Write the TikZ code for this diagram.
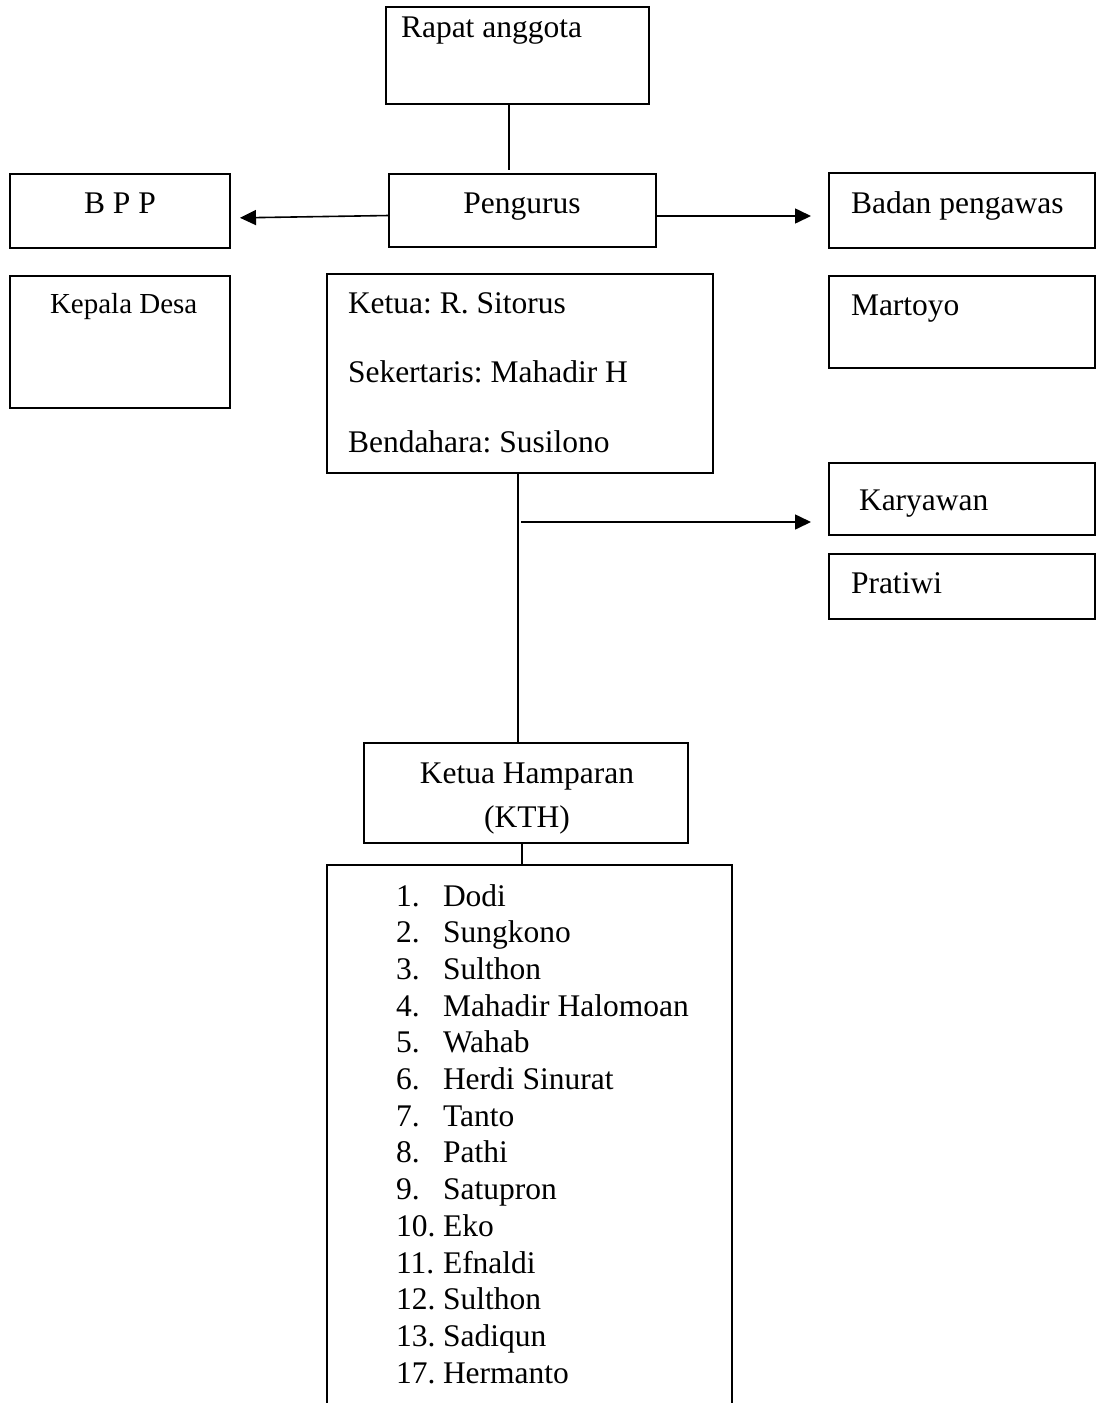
\documentclass[tikz,border=0pt]{standalone}
\usepackage{fontspec}
\setmainfont{Liberation Serif}
\usetikzlibrary{arrows.meta}
\begin{document}
\frenchspacing
\begin{tikzpicture}[x=1pt,y=-1pt,
  box/.style={draw, line width=1.6pt, inner sep=0pt, outer sep=0pt},
  txt/.style={inner sep=0pt, outer sep=0pt, font=\fontsize{31.5}{36}\selectfont},
  small/.style={inner sep=0pt, outer sep=0pt, font=\fontsize{29}{34}\selectfont},
  conn/.style={line width=1.4pt},
  arr/.style={line width=1.6pt, -{Triangle[length=16pt,width=15pt]}}]
\useasboundingbox (0,0) rectangle (1097,1403);

% boxes
\node[box, minimum width=263pt, minimum height=97pt] (rapat) at (517.5,55.5) {};
\node[box, minimum width=267pt, minimum height=73pt] (pengurus) at (522.5,210.5) {};
\node[box, minimum width=220pt, minimum height=74pt] (bpp) at (120,211) {};
\node[box, minimum width=266pt, minimum height=75pt] (badan) at (962,210.5) {};
\node[box, minimum width=220pt, minimum height=132pt] (kepala) at (120,342) {};
\node[box, minimum width=386pt, minimum height=199pt] (ketua) at (520,373.5) {};
\node[box, minimum width=266pt, minimum height=92pt] (martoyo) at (962,322) {};
\node[box, minimum width=266pt, minimum height=72pt] (karyawan) at (962,499) {};
\node[box, minimum width=266pt, minimum height=65pt] (pratiwi) at (962,586.5) {};
\node[box, minimum width=324pt, minimum height=100pt] (kth) at (526,793) {};
\node[box, minimum width=405pt, minimum height=565pt] (list) at (529.5,1147.5) {};

% texts
\node[txt, anchor=base west] (t-rapat) at (401,37) {Rapat anggota};
\node[txt, anchor=base] (t-pengurus) at (522,213) {Pengurus};
\node[txt, anchor=base] (t-bpp) at (120,213) {B P P};
\node[txt, anchor=base west] (t-badan) at (851,213) {Badan pengawas};
\node[small, anchor=base west] (t-kepala) at (50,313) {Kepala Desa};
\node[txt, anchor=base west] (t-ketua) at (348,313) {Ketua: R. Sitorus};
\node[txt, anchor=base west] (t-sek) at (348,382) {Sekertaris: Mahadir H};
\node[txt, anchor=base west] (t-bend) at (348,452) {Bendahara: Susilono};
\node[txt, anchor=base west] (t-martoyo) at (851,315) {Martoyo};
\node[txt, anchor=base west] (t-karyawan) at (859,510) {Karyawan};
\node[txt, anchor=base west] (t-pratiwi) at (851,593) {Pratiwi};
\node[txt, anchor=base] (t-kth1) at (527,783) {Ketua Hamparan};
\node[txt, anchor=base] (t-kth2) at (527,827) {(KTH)};

\foreach \num/\name [count=\i from 0] in {1./Dodi,2./Sungkono,3./Sulthon,4./Mahadir Halomoan,5./Wahab,6./Herdi Sinurat,7./Tanto,8./Pathi,9./Satupron,10./Eko,11./Efnaldi,12./Sulthon,13./Sadiqun,17./Hermanto}{
  \node[txt, anchor=base west] (num\i) at (396,906+36.7*\i) {\num};
  \node[txt, anchor=base west] (name\i) at (443,906+36.7*\i) {\name};
}

% connectors
\draw[conn] ([xshift=-8.5pt]rapat.south) -- ([xshift=-8.5pt,yshift=4pt]rapat.south |- pengurus.north);
\draw[arr, shorten >=10pt] ([yshift=-5pt]pengurus.west) -- ([yshift=-7pt]bpp.east);
\draw[arr, shorten >=18pt] ([yshift=-5.5pt]pengurus.east) -- ([yshift=-5.5pt]pengurus.east -| badan.west);
\draw[conn] ([xshift=-2pt]ketua.south) -- ([xshift=-2pt]ketua.south |- kth.north);
\coordinate (tap) at (521,522);
\draw[arr, shorten >=18pt] (tap) -- (tap -| karyawan.west);
\draw[conn] ([xshift=-4pt]kth.south) -- ([xshift=-4pt]kth.south |- list.north);
\end{tikzpicture}
\end{document}
